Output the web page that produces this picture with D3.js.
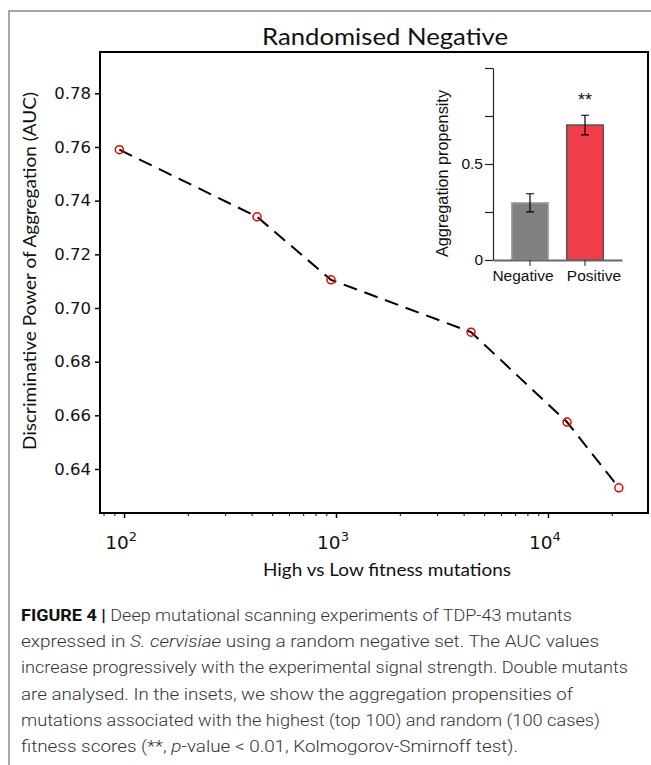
<!DOCTYPE html>
<html>
<head>
<meta charset="utf-8">
<script src="https://cdn.jsdelivr.net/npm/d3@7"></script>
<style>
  body { margin: 0; background: #fff; }
  svg { display: block; }
</style>
</head>
<body>
<svg id="chart" width="651" height="765"></svg>
<script>
// main panel data
const mutationCounts = [95, 424, 947, 4335, 12300, 21600];
const aucValues = [0.759, 0.734, 0.7105, 0.691, 0.6575, 0.633];
const aucTicks = [0.64, 0.66, 0.68, 0.70, 0.72, 0.74, 0.76, 0.78];
const decadeTicks = [100, 1000, 10000];

// inset data
const insetCategories = ['Negative', 'Positive'];
const insetValues = [0.298, 0.703];
const insetErrors = [0.047, 0.051];
const insetColors = ['#808080', '#ef3e4a'];
const insetStrokes = ['#a8a8a8', '#555555'];
const insetTicks = [0, 0.25, 0.5, 0.75, 1];

const captionLines = [
  [{ t: 'FIGURE 4 | ', b: true }, { t: 'Deep mutational scanning experiments of TDP-43 mutants' }],
  [{ t: 'expressed in ' }, { t: 'S. cervisiae', i: true }, { t: ' using a random negative set. The AUC values' }],
  [{ t: 'increase progressively with the experimental signal strength. Double mutants' }],
  [{ t: 'are analysed. In the insets, we show the aggregation propensities of' }],
  [{ t: 'mutations associated with the highest (top 100) and random (100 cases)' }],
  [{ t: 'fitness scores (**, ' }, { t: 'p', i: true }, { t: '-value < 0.01, Kolmogorov-Smirnoff test).' }]
];
const captionWidths = [551, 578, 607, 552, 579, 497];

const svg = d3.select('#chart');
const tickFont = '"DejaVu Sans", sans-serif';
const labelFont = 'Lato, "Open Sans", sans-serif';
const insetFont = '"Liberation Sans", Arial, sans-serif';
const capFont = 'Roboto, "Liberation Sans", Arial, sans-serif';

// page frame (top and left edges visible)
svg.append('path')
  .attr('d', 'M9,770V11H660')
  .attr('fill', 'none')
  .attr('stroke', '#8a8a8a')
  .attr('stroke-width', 1.5);

const x = d3.scaleLog().domain([77, 29650]).range([100, 648]);
const y = d3.scaleLinear().domain([0.6236, 0.7954]).range([513, 52]);

// title
svg.append('text')
  .attr('x', 262).attr('y', 45)
  .attr('font-family', labelFont)
  .attr('font-size', 24)
  .attr('fill', '#111')
  .attr('textLength', 246)
  .attr('lengthAdjust', 'spacingAndGlyphs')
  .text('Randomised Negative');

// y axis
const yAxis = svg.append('g')
  .attr('transform', 'translate(100,0)')
  .call(d3.axisLeft(y).tickValues(aucTicks).tickSize(5).tickFormat(d3.format('.2f')));
yAxis.select('.domain').remove();
yAxis.selectAll('line').attr('stroke-width', 1.5);
yAxis.selectAll('text')
  .attr('font-family', tickFont)
  .attr('font-size', 16.5)
  .attr('fill', '#111')
  .attr('x', -9);

// x axis minor ticks
const minorTicks = [];
[10, 100, 1000, 10000].forEach(d => {
  for (let k = 2; k <= 9; k++) {
    const v = d * k;
    if (v >= 77 && v <= 29650) minorTicks.push(v);
  }
});
svg.append('g')
  .attr('transform', 'translate(0,513)')
  .call(d3.axisBottom(x).tickValues(minorTicks).tickSize(3).tickFormat(''))
  .call(g => g.select('.domain').remove())
  .selectAll('line').attr('stroke-width', 1);

const xAxis = svg.append('g')
  .attr('transform', 'translate(0,513)')
  .call(d3.axisBottom(x).tickValues(decadeTicks).tickSize(5).tickFormat(''));
xAxis.select('.domain').remove();
xAxis.selectAll('line').attr('stroke-width', 1.5);

decadeTicks.forEach(d => {
  const t = svg.append('text')
    .attr('x', x(d) - 3).attr('y', 549)
    .attr('text-anchor', 'middle')
    .attr('font-family', tickFont)
    .attr('font-size', 18.5)
    .attr('fill', '#111');
  t.append('tspan').text('10');
  t.append('tspan').attr('dy', -8).attr('font-size', 13).text(Math.round(Math.log10(d)));
});

// frame
svg.append('rect')
  .attr('x', 100).attr('y', 52)
  .attr('width', 548).attr('height', 461)
  .attr('fill', 'none')
  .attr('stroke', '#000')
  .attr('stroke-width', 2);

// axis labels
svg.append('text')
  .attr('x', 263).attr('y', 576)
  .attr('font-family', labelFont)
  .attr('font-size', 18)
  .attr('fill', '#111')
  .attr('textLength', 248)
  .attr('lengthAdjust', 'spacingAndGlyphs')
  .text('High vs Low fitness mutations');

svg.append('text')
  .attr('transform', 'translate(36,450) rotate(-90)')
  .attr('font-family', labelFont)
  .attr('font-size', 18)
  .attr('fill', '#111')
  .attr('textLength', 358)
  .attr('lengthAdjust', 'spacingAndGlyphs')
  .text('Discriminative Power of Aggregation (AUC)');

// line + markers
const pts = mutationCounts.map((c, i) => [c, aucValues[i]]);
svg.append('path')
  .datum(pts)
  .attr('d', d3.line().x(d => x(d[0])).y(d => y(d[1])))
  .attr('fill', 'none')
  .attr('stroke', '#000')
  .attr('stroke-width', 2)
  .attr('stroke-dasharray', '14,8');

svg.append('g').selectAll('circle').data(pts).join('circle')
  .attr('cx', d => x(d[0]))
  .attr('cy', d => y(d[1]))
  .attr('r', 4)
  .attr('fill', 'none')
  .attr('stroke', '#ee0000')
  .attr('stroke-width', 1.5);

// inset bar chart
const xi = d3.scaleBand().domain(insetCategories).range([493, 622]).paddingInner(0.335).paddingOuter(0.34);
const yi = d3.scaleLinear().domain([0, 1]).range([260, 68]);

const inset = svg.append('g');
inset.selectAll('rect').data(insetCategories).join('rect')
  .attr('x', d => xi(d))
  .attr('y', (d, i) => yi(insetValues[i]))
  .attr('width', xi.bandwidth())
  .attr('height', (d, i) => yi(0) - yi(insetValues[i]))
  .attr('fill', (d, i) => insetColors[i])
  .attr('stroke', (d, i) => insetStrokes[i])
  .attr('stroke-width', 1.5);

insetCategories.forEach((c, i) => {
  const cx = xi(c) + xi.bandwidth() / 2;
  const lo = yi(insetValues[i] - insetErrors[i]);
  const hi = yi(insetValues[i] + insetErrors[i]);
  inset.append('path')
    .attr('d', `M${cx},${lo}V${hi}M${cx - 4},${lo}H${cx + 4}M${cx - 4},${hi}H${cx + 4}`)
    .attr('stroke', '#000')
    .attr('stroke-width', 1.2)
    .attr('fill', 'none');
});

const yiAxis = inset.append('g')
  .attr('transform', 'translate(493,0)')
  .call(d3.axisLeft(yi).tickValues(insetTicks).tickSize(8).tickSizeOuter(0)
    .tickFormat(d => d === 0 ? '0' : d === 0.5 ? '0.5' : ''));
yiAxis.select('.domain').attr('stroke', '#222').attr('stroke-width', 1.2);
yiAxis.selectAll('line').attr('stroke', '#222').attr('stroke-width', 1.2);
yiAxis.selectAll('text')
  .attr('font-family', insetFont)
  .attr('font-size', 15.5)
  .attr('fill', '#111')
  .attr('x', -10);

const xiAxis = inset.append('g')
  .attr('transform', 'translate(0,260)')
  .call(d3.axisBottom(xi).tickSize(6).tickSizeOuter(0));
xiAxis.select('.domain').attr('stroke', '#666').attr('stroke-width', 2);
xiAxis.selectAll('line').attr('stroke', '#222');
// labels sit slightly outward from the bar centres in the original
xiAxis.selectAll('text')
  .attr('font-family', insetFont)
  .attr('font-size', 15.5)
  .attr('fill', '#111')
  .attr('y', 10)
  .attr('x', d => d === 'Negative' ? -7 : 9);

inset.append('text')
  .attr('transform', 'translate(448,257) rotate(-90)')
  .attr('font-family', insetFont)
  .attr('font-size', 16.5)
  .attr('fill', '#111')
  .attr('textLength', 167)
  .attr('lengthAdjust', 'spacingAndGlyphs')
  .text('Aggregation propensity');

inset.append('text')
  .attr('x', xi('Positive') + xi.bandwidth() / 2)
  .attr('y', 106)
  .attr('text-anchor', 'middle')
  .attr('font-family', insetFont)
  .attr('font-size', 18)
  .attr('fill', '#111')
  .text('**');

// caption
captionLines.forEach((line, li) => {
  const t = svg.append('text')
    .attr('x', 21)
    .attr('y', 621 + li * 26.2)
    .attr('font-family', capFont)
    .attr('font-size', 16)
    .attr('font-weight', 300)
    .attr('fill', '#333')
    .attr('textLength', captionWidths[li])
    .attr('lengthAdjust', 'spacingAndGlyphs');
  line.forEach(seg => {
    const s = t.append('tspan').text(seg.t);
    if (seg.b) s.attr('font-weight', 'bold').attr('fill', '#111');
    if (seg.i) s.attr('font-style', 'italic');
  });
});
</script>
</body>
</html>
